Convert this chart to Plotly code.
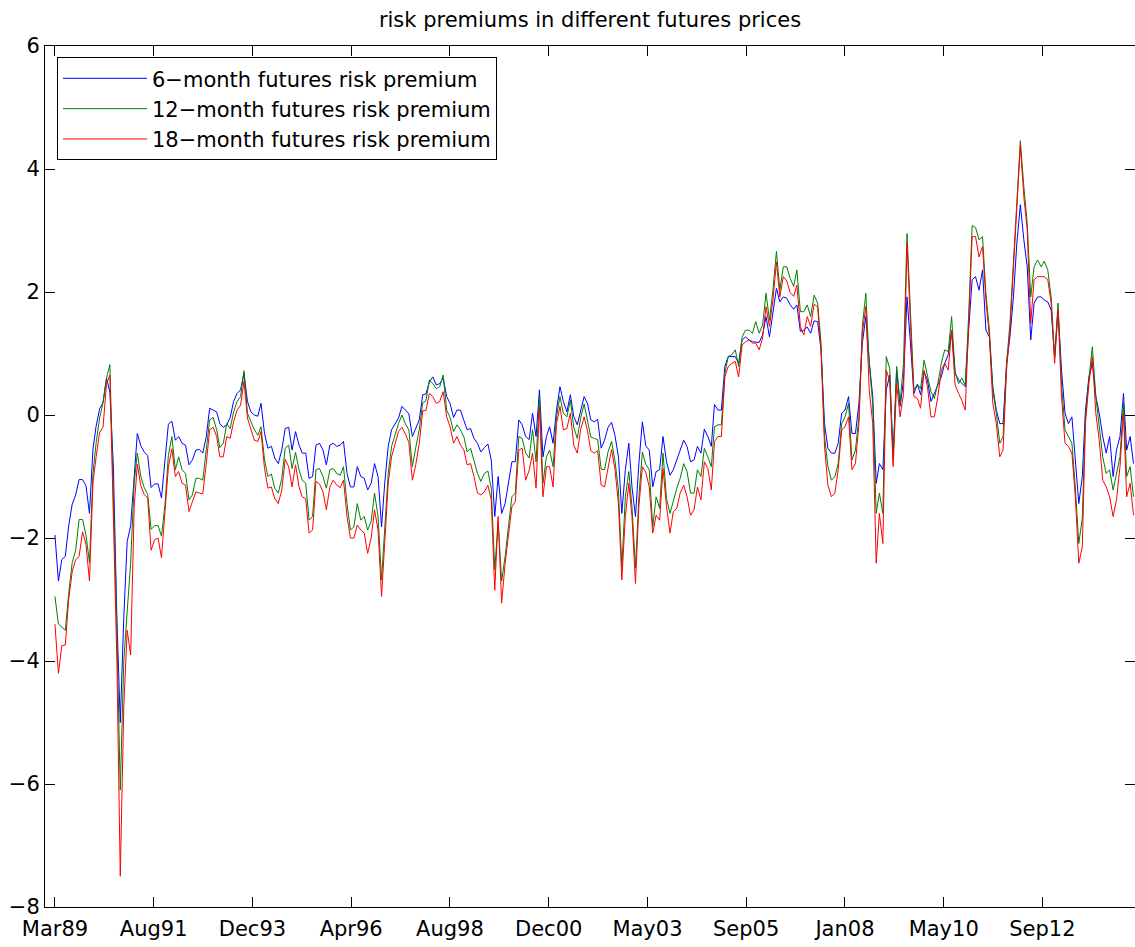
import plotly.graph_objects as go
import pandas as pd

# monthly observations, Mar 1989 onwards
start_date = "1989-03-01"

six_month = [
    -1.95, -2.7, -2.35, -2.3, -1.8, -1.45, -1.3, -1.05, -1.05, -1.15,
    -1.6, -0.55, -0.18, 0.1, 0.2, 0.6, 0.37, -0.85, -3.3, -5.0,
    -3.3, -2.06, -1.8, -1.0, -0.3, -0.5, -0.6, -0.66, -1.18, -1.12,
    -1.12, -1.35, -0.72, -0.15, -0.1, -0.41, -0.35, -0.46, -0.49, -0.81,
    -0.73, -0.57, -0.56, -0.62, -0.35, 0.11, 0.08, 0.05, -0.14, -0.2,
    -0.16, -0.04, 0.22, 0.35, 0.41, 0.68, 0.22, 0.05, 0.0, -0.02,
    0.19, -0.3, -0.54, -0.51, -0.7, -0.79, -0.57, -0.22, -0.2, -0.57,
    -0.27, -0.49, -0.62, -0.62, -1.03, -1.0, -0.49, -0.46, -0.57, -0.81,
    -0.49, -0.46, -0.51, -0.49, -0.43, -0.95, -1.17, -1.17, -0.84, -1.0,
    -1.03, -1.22, -1.11, -0.79, -1.0, -1.82, -1.11, -0.51, -0.24, -0.15,
    -0.05, 0.14, 0.08, 0.02, -0.35, -0.23, -0.08, 0.33, 0.34, 0.54,
    0.62, 0.49, 0.51, 0.6, 0.3, 0.19, -0.04, 0.08, 0.08, -0.09,
    -0.24, -0.22, -0.38, -0.46, -0.6, -0.53, -0.47, -0.73, -1.65, -1.0,
    -1.6, -1.44, -1.11, -0.76, -0.76, -0.08, -0.16, -0.35, -0.4, 0.03,
    -0.35, 0.41, -0.68, -0.35, -0.19, -0.46, 0.08, 0.46, 0.22, 0.05,
    0.33, -0.02, -0.16, 0.08, 0.3, 0.18, -0.08, -0.11, -0.07, -0.54,
    -0.41, -0.2, -0.12, -0.33, -0.68, -1.6, -0.89, -0.46, -1.17, -1.65,
    -0.79, -0.11, -0.5, -0.57, -1.17, -0.92, -0.89, -0.35, -0.76, -0.98,
    -0.89, -0.73, -0.57, -0.41, -0.51, -0.76, -0.73, -0.51, -0.62, -0.23,
    -0.35, -0.51, 0.17, 0.08, 0.08, 0.79, 0.95, 0.95, 0.95, 0.84,
    1.22, 1.27, 1.22, 1.19, 1.18, 1.18, 1.3, 1.6, 1.27, 1.65,
    2.06, 1.84, 1.92, 1.9, 1.79, 1.72, 1.79, 1.36, 1.38, 1.43,
    1.33, 1.53, 1.52, 1.06, -0.14, -0.54, -0.62, -0.62, -0.46, 0.03,
    0.08, 0.3, -0.3, -0.3, 0.19, 1.17, 1.6, 0.87, 0.3, -1.11,
    -0.79, -0.89, 0.41, 0.65, -0.68, 0.73, 0.14, 0.57, 1.92, 1.17,
    0.35, 0.5, 0.33, 0.7, 0.57, 0.22, 0.35, 0.51, 0.62, 0.84,
    0.98, 1.38, 0.68, 0.57, 0.51, 0.46, 1.38, 2.2, 2.25, 2.03,
    2.36, 1.38, 1.27, 0.46, 0.08, -0.14, -0.14, 0.84, 1.27, 1.92,
    2.79, 3.42, 2.85, 2.41, 1.22, 1.82, 1.92, 1.92, 1.87, 1.84,
    1.71, 0.95, 1.71, 0.73, 0.03, -0.14, -0.03, -0.79, -1.44, -1.0,
    0.08, 0.62, 0.84, 0.3, 0.03, -0.35, -0.62, -0.35, -1.0, -0.57,
    -0.35, 0.35, -0.57, -0.35, -0.79,
]

twelve_month = [
    -2.95, -3.4, -3.45, -3.5, -2.9, -2.4, -2.2, -1.7, -1.7, -1.95,
    -2.4, -0.95, -0.45, -0.05, 0.2, 0.6, 0.82, -1.3, -3.5, -6.1,
    -4.0, -3.2, -2.4, -1.1, -0.62, -1.0, -1.18, -1.29, -1.86, -1.8,
    -1.8, -1.97, -1.46, -0.66, -0.35, -0.89, -0.68, -0.89, -0.95, -1.38,
    -1.3, -1.03, -1.03, -1.06, -0.57, -0.08, -0.04, -0.24, -0.53, -0.46,
    -0.14, -0.22, 0.05, 0.22, 0.3, 0.72, 0.03, -0.11, -0.24, -0.33,
    -0.19, -0.73, -1.0, -0.96, -1.19, -1.27, -1.03, -0.54, -0.49, -0.87,
    -0.61, -0.89, -1.06, -1.11, -1.71, -1.65, -0.89, -0.87, -1.0, -1.19,
    -0.89, -0.87, -0.95, -0.98, -0.84, -1.44, -1.87, -1.82, -1.44, -1.71,
    -1.65, -1.87, -1.73, -1.27, -1.65, -2.68, -1.87, -0.95, -0.51, -0.31,
    -0.14, 0.0, -0.15, -0.24, -0.84, -0.53, -0.24, 0.2, 0.23, 0.57,
    0.51, 0.43, 0.46, 0.65, 0.08, -0.04, -0.27, -0.16, -0.24, -0.36,
    -0.6, -0.54, -0.76, -0.95, -1.08, -0.95, -0.91, -1.19, -2.52, -1.73,
    -2.7, -2.3, -1.82, -1.33, -1.27, -0.35, -0.38, -0.62, -0.7, -0.24,
    -0.76, 0.3, -1.11, -0.68, -0.57, -0.84, -0.03, 0.3, 0.03, -0.03,
    0.24, -0.2, -0.38, -0.05, 0.18, -0.11, -0.36, -0.38, -0.4, -0.88,
    -0.89, -0.6, -0.43, -0.74, -1.22, -2.47, -1.33, -0.92, -1.49, -2.49,
    -1.33, -0.6, -0.8, -0.89, -1.82, -1.33, -1.52, -0.62, -1.36, -1.6,
    -1.38, -1.19, -1.03, -0.79, -0.92, -1.27, -1.27, -0.89, -1.0, -0.54,
    -0.68, -0.84, -0.19, -0.16, -0.16, 0.68, 0.95, 0.98, 1.06, 0.79,
    1.27, 1.38, 1.38, 1.33, 1.52, 1.33, 1.46, 1.98, 1.54, 2.03,
    2.66, 2.03, 2.41, 2.41, 2.22, 2.09, 2.36, 1.68, 1.68, 1.79,
    1.6, 1.95, 1.82, 1.17, -0.35, -0.84, -1.06, -1.0, -0.79, -0.14,
    -0.03, 0.19, -0.73, -0.57, -0.03, 1.44, 1.98, 0.84, 0.19, -1.6,
    -1.27, -1.6, 0.95, 0.75, -0.73, 0.79, 0.19, 0.84, 2.95, 1.6,
    0.41, 0.5, 0.43, 0.89, 0.62, 0.38, 0.27, 0.51, 0.84, 1.06,
    1.03, 1.6, 0.7, 0.51, 0.6, 0.49, 1.6, 3.08, 3.05, 2.85,
    2.9, 1.98, 1.38, 0.41, 0.03, -0.46, -0.35, 0.84, 1.49, 2.47,
    3.44, 4.46, 3.71, 3.12, 1.92, 2.41, 2.52, 2.41, 2.5, 2.36,
    1.92, 0.95, 1.82, 0.51, -0.24, -0.35, -0.46, -1.17, -2.09, -1.68,
    -0.03, 0.6, 1.11, 0.3, -0.14, -0.68, -0.95, -0.89, -1.22, -0.95,
    -0.68, 0.19, -1.0, -0.84, -1.33,
]

eighteen_month = [
    -3.4, -4.2, -3.75, -3.74, -3.0, -2.55, -2.35, -2.3, -1.9, -2.1,
    -2.7, -1.1, -0.68, -0.28, -0.2, 0.5, 0.65, -1.6, -4.0, -7.5,
    -4.75, -3.5, -3.9, -1.5, -0.8, -1.15, -1.29, -1.35, -2.2, -2.03,
    -2.0, -2.32, -1.63, -0.85, -0.55, -1.0, -0.92, -1.11, -1.14, -1.57,
    -1.41, -1.25, -1.27, -1.28, -0.79, -0.24, -0.2, -0.35, -0.68, -0.68,
    -0.35, -0.38, -0.11, 0.08, 0.16, 0.55, -0.05, -0.24, -0.41, -0.43,
    -0.27, -0.87, -1.19, -1.17, -1.36, -1.44, -1.22, -0.72, -0.84, -1.17,
    -0.81, -1.17, -1.33, -1.36, -1.92, -1.87, -1.08, -1.12, -1.25, -1.54,
    -1.17, -1.06, -1.14, -1.18, -1.06, -1.65, -2.0, -2.0, -1.79, -1.87,
    -1.92, -2.25, -2.0, -1.54, -1.87, -2.95, -2.09, -1.11, -0.68, -0.49,
    -0.27, -0.2, -0.31, -0.45, -1.06, -0.81, -0.46, 0.07, 0.07, 0.35,
    0.3, 0.19, 0.22, 0.38, -0.03, -0.19, -0.46, -0.35, -0.49, -0.57,
    -0.81, -0.79, -1.0, -1.27, -1.3, -1.25, -1.14, -1.38, -2.85, -1.65,
    -3.06, -2.41, -2.0, -1.49, -1.41, -0.57, -0.54, -1.06, -0.9, -0.62,
    -1.19, 0.14, -1.33, -0.84, -0.84, -1.17, -0.14, 0.14, -0.24, -0.22,
    0.03, -0.49, -0.62, -0.24, -0.03, -0.27, -0.58, -0.62, -0.58, -1.14,
    -1.17, -0.84, -0.56, -0.88, -1.44, -2.68, -1.65, -1.11, -1.65, -2.74,
    -1.49, -0.84, -0.93, -1.17, -1.92, -1.63, -1.71, -0.87, -1.49, -1.92,
    -1.57, -1.52, -1.27, -1.14, -1.33, -1.63, -1.54, -1.17, -1.38, -0.76,
    -0.87, -1.22, -0.43, -0.35, -0.35, 0.62, 0.79, 0.84, 0.87, 0.62,
    1.14, 1.19, 1.22, 1.17, 1.17, 1.06, 1.25, 1.76, 1.44, 1.87,
    2.49, 1.92, 2.25, 2.18, 1.99, 1.93, 2.11, 1.44, 1.3, 1.6,
    1.44, 1.8, 1.76, 1.06, -0.51, -1.14, -1.33, -1.27, -0.89, -0.24,
    -0.19, -0.03, -0.89, -0.79, -0.14, 1.33, 1.76, 0.41, -0.14, -2.41,
    -1.6, -2.09, 0.73, 0.55, -0.84, 0.51, -0.03, 0.35, 2.8, 1.49,
    0.3, 0.27, 0.11, 0.73, 0.46, -0.03, -0.03, 0.3, 0.73, 0.84,
    0.73, 1.38, 0.49, 0.35, 0.24, 0.08, 1.49, 2.9, 2.9, 2.57,
    2.74, 1.87, 1.27, 0.19, -0.14, -0.68, -0.57, 0.73, 1.38, 2.36,
    3.33, 4.38, 3.55, 3.01, 1.49, 2.2, 2.25, 2.25, 2.25, 2.2,
    1.82, 0.84, 1.71, 0.3, -0.46, -0.51, -0.62, -1.33, -2.41, -2.14,
    -0.14, 0.51, 0.95, 0.03, -0.41, -1.06, -1.17, -1.33, -1.65, -1.38,
    -0.84, 0.03, -1.33, -1.11, -1.63,
]

tick_labels = ["Mar89", "Aug91", "Dec93", "Apr96", "Aug98", "Dec00",
               "May03", "Sep05", "Jan08", "May10", "Sep12"]

dates = pd.date_range(start_date, periods=len(six_month), freq="MS")
t0 = pd.Timestamp(start_date)
# ticks every 125 weeks, as in the original index-based axis
tick_vals = [t0 + pd.Timedelta(days=875 * k) for k in range(len(tick_labels))]
x_range = [t0 - pd.Timedelta(days=88), t0 + pd.Timedelta(days=9570)]

font_family = "DejaVu Sans, Liberation Sans, Arial, sans-serif"
font_size = 21

fig = go.Figure()
series = [
    (six_month, "6\u2212month futures risk premium", "#0000ff"),
    (twelve_month, "12\u2212month futures risk premium", "#008000"),
    (eighteen_month, "18\u2212month futures risk premium", "#ff0000"),
]
for values, name, color in series:
    fig.add_trace(go.Scatter(
        x=dates, y=values, mode="lines", name=name,
        line=dict(color=color, width=1),
    ))

axis_style = dict(
    showline=True, linecolor="black", linewidth=1, mirror="allticks",
    ticks="inside", ticklen=10, tickcolor="black", tickwidth=1,
    showgrid=False, zeroline=False,
    tickfont=dict(size=font_size, color="black", family=font_family),
)

fig.update_layout(
    width=1135, height=947,
    margin=dict(l=45, r=0, t=46, b=40),
    paper_bgcolor="white", plot_bgcolor="white",
    font=dict(family=font_family, color="black"),
    title=dict(
        text="risk premiums in different futures prices",
        x=0.5, xref="paper", xanchor="center",
        y=1 - 20 / 947, yref="container", yanchor="middle",
        font=dict(size=font_size, color="black"),
    ),
    xaxis=dict(type="date", range=x_range, tickvals=tick_vals,
               ticktext=tick_labels, ticklabelstandoff=3, **axis_style),
    yaxis=dict(range=[-8, 6], dtick=2, tick0=0, **axis_style),
    legend=dict(
        x=0.011, y=0.987, xanchor="left", yanchor="top",
        bgcolor="white", bordercolor="black", borderwidth=1,
        font=dict(size=font_size, color="black"),
        itemwidth=84, tracegroupgap=0,
    ),
    showlegend=True,
)

# page body has a default margin; drop it so the figure sits at the window origin
fig.write_html(
    "out.html",
    config={"displayModeBar": False},
    post_script="document.body.style.margin='0px';document.body.style.overflow='hidden';",
)
